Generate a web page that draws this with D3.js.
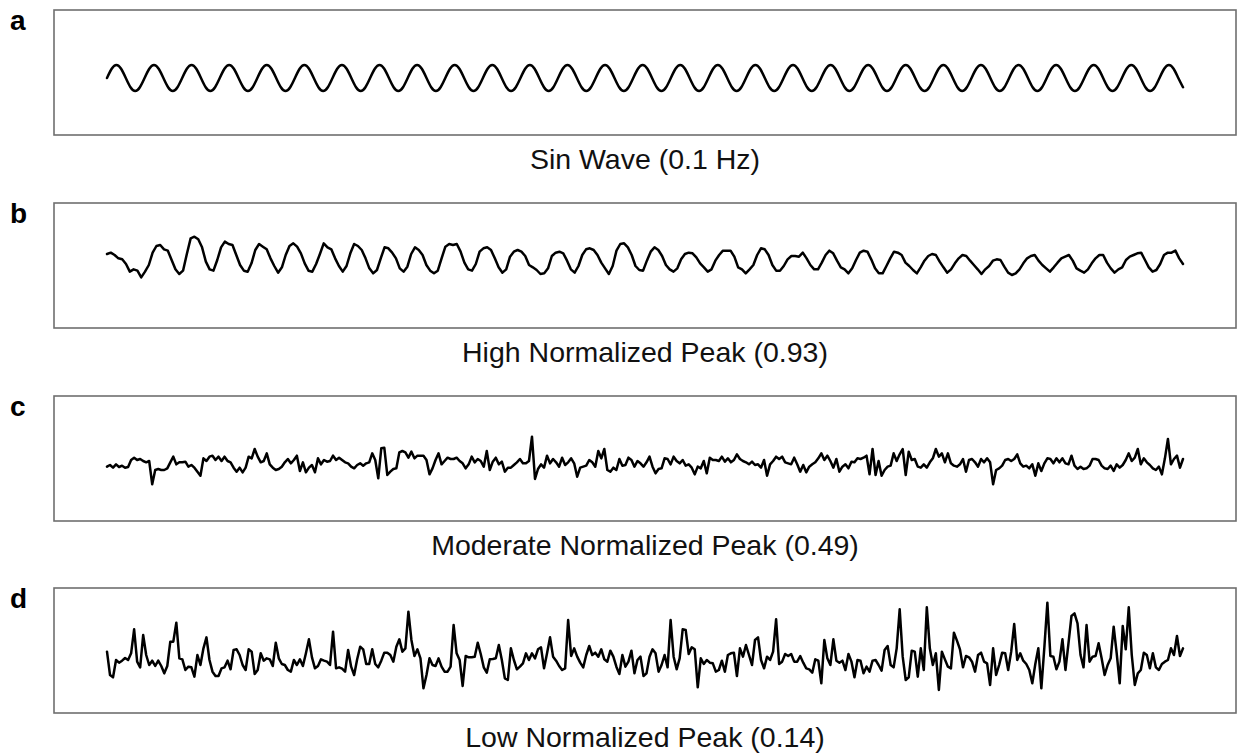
<!DOCTYPE html>
<html>
<head>
<meta charset="utf-8">
<script src="https://cdn.jsdelivr.net/npm/d3@7"></script>
<style>
  html, body { margin: 0; padding: 0; background: #fff; }
  svg { display: block; }
</style>
</head>
<body>
<svg></svg>
<script>
// panel letters and captions
const labels = ['a', 'b', 'c', 'd'];
const titles = [
  'Sin Wave (0.1 Hz)',
  'High Normalized Peak (0.93)',
  'Moderate Normalized Peak (0.49)',
  'Low Normalized Peak (0.14)'
];

// signal values, arbitrary units
const sinWave = [
  0, 0.71, 1, 0.71, 0, -0.71, -1, -0.71,
  0, 0.71, 1, 0.71, 0, -0.71, -1, -0.71,
  0, 0.71, 1, 0.71, 0, -0.71, -1, -0.71,
  0, 0.71, 1, 0.71, 0, -0.71, -1, -0.71,
  0, 0.71, 1, 0.71, 0, -0.71, -1, -0.71,
  0, 0.71, 1, 0.71, 0, -0.71, -1, -0.71,
  0, 0.71, 1, 0.71, 0, -0.71, -1, -0.71,
  0, 0.71, 1, 0.71, 0, -0.71, -1, -0.71,
  0, 0.71, 1, 0.71, 0, -0.71, -1, -0.71,
  0, 0.71, 1, 0.71, 0, -0.71, -1, -0.71,
  0, 0.71, 1, 0.71, 0, -0.71, -1, -0.71,
  0, 0.71, 1, 0.71, 0, -0.71, -1, -0.71,
  0, 0.71, 1, 0.71, 0, -0.71, -1, -0.71,
  0, 0.71, 1, 0.71, 0, -0.71, -1, -0.71,
  0, 0.71, 1, 0.71, 0, -0.71, -1, -0.71,
  0, 0.71, 1, 0.71, 0, -0.71, -1, -0.71,
  0, 0.71, 1, 0.71, 0, -0.71, -1, -0.71,
  0, 0.71, 1, 0.71, 0, -0.71, -1, -0.71,
  0, 0.71, 1, 0.71, 0, -0.71, -1, -0.71,
  0, 0.71, 1, 0.71, 0, -0.71, -1, -0.71,
  0, 0.71, 1, 0.71, 0, -0.71, -1, -0.71,
  0, 0.71, 1, 0.71, 0, -0.71, -1, -0.71,
  0, 0.71, 1, 0.71, 0, -0.71, -1, -0.71,
  0, 0.71, 1, 0.71, 0, -0.71, -1, -0.71,
  0, 0.71, 1, 0.71, 0, -0.71, -1, -0.71,
  0, 0.71, 1, 0.71, 0, -0.71, -1, -0.71,
  0, 0.71, 1, 0.71, 0, -0.71, -1, -0.71,
  0, 0.71, 1, 0.71, 0, -0.71, -1, -0.71,
  0, 0.71, 1, 0.71, 0, -0.71
];

const highPeak = [
  18, 22, 15, 5, 2, -12, -35, -28, -32, -52, -35, -15, 22, 42, 45, 32, 28, 0, -28, -42,
  -32, 18, 65, 70, 62, 38, -5, -28, -32, 0, 38, 55, 48, 45, 15, -15, -32, -35, -10, 30,
  48, 40, 32, 5, -18, -38, -22, 15, 42, 50, 40, 20, -10, -32, -35, -12, 18, 50, 38, 32,
  5, -18, -35, -18, 20, 48, 42, 30, 5, -25, -40, -30, 5, 38, 35, 22, 5, -25, -35, -20,
  18, 38, 30, 15,
  -15, -32, -40, -32, 5, 40, 48, 45, 48, 25, -8, -28, -32, -12, 25, 35, 38, 30, 5, -22,
  -38, -28, 10, 25, 30, 25, 12, -15, -22, -30, -42, -40, -25, 12, 22, 25, 20, -2, -28, -38,
  -18, 15, 32, 35, 30, 15, -8, -25, -42, -18, 28, 48, 50, 38, 15, -18, -30, -32, -2, 25,
  38, 30, 12, -15, -28, -35, -25, 2, 18, 22, 20, 8, -10, -22, -35, -28, -2, 15, 28, 28,
  28, 10, -22, -28, -40, -28, -15, 15, 35, 32, 15, -15, -32, -32, -18, 2, 12, 12, 10, 22,
  5, -15, -28, -28, -8, 15, 28, 20,
  -2, -22, -28, -40, -25, 0, 22, 28, 25, 2, -25, -40, -40, -18, 5, 25, 22, 15, -8, -18,
  -30, -40, -22, -2, 12, 18, 15, -5, -22, -38, -28, -10, 5, 15, 12, -2, -15, -28, -42, -28,
  -18, -2, 2, 0, -20, -38, -45, -40, -28, -10, 5, 12, 15, -2, -15, -25, -35, -22, -8, 5,
  10, 15, -2, -25, -32, -38, -28, -10, 5, 15, 15, -8, -25, -38, -28, -22, 0, 10, 15, 20,
  22, 0, -22, -35, -30, -12, 15, 22, 22, 28, 5, -12
];

const moderatePeak = [
  -5, 0, -8, 2, -6, -2, -8, -6, 15, 22, 15, 18, 12, 8, 12, -58, -15, -12, -15, -15,
  -10, 8, 25, 2, 8, 8, 10, -5, 0, -8, -20, -32, 20, 12, 25, 28, 15, 25, 12, 25,
  12, 8, -8, -20, -8, -22, -8, 25, 20, 48, 25, 8, 12, 35, 2, -8, -15, -12, -5, 8,
  18, 5, 15, 28, -18, 8, -22, -8, 0, -22, 20, 2, 15, 10, 12, 28, 15, 22, 15, 8,
  5, -5, -10, 0, 5, -2, 5, 8, 35, 15, -40, 50, 52, -30, -20, -12, -10, 38, 42, 38,
  22, 40, 20, 28, 28, 28, 15, -28, -10, 15, 35, 2, 12, 22, 18, 18, 22, 12, 5, -10,
  2,
  25, 8, 18, 12, -5, 42, -15, 10, 22, 2, 10, -20, -8, -8, 0, 8, 18, 5, 5, 12,
  85, -42, -12, 2, -8, 28, 5, 18, 8, -5, 22, 0, 8, 20, 5, -35, -8, -5, -2, 15,
  8, -5, 42, 20, 48, -15, -20, -8, -15, 18, -2, 0, 22, 15, -5, 12, 5, -5, 8, 25,
  -5, -25, -12, -10, 20, 18, 2, 25, 12, 5, 15, -2, 2, -8, -28, -5, -10, 12, -25, 22,
  15, 15, 12, 25, 10, 20, 8, 15, 32, 18, 12, 8, 2, 10, 0, 2, -8, 15, -32, 2,
  12, 25, 18, 25, 8, 5, 2, 22, 2, -20, 0, -22, -5, 2, 8, 20, 35, 15,
  28, 12, -8, 18, -20, -5, 2, -10, 10, 8, 20, 18, 22, 28, -28, 48, -30, 12, -32, -15,
  -5, -2, 35, 12, 32, 48, -30, 40, 15, 18, -5, -8, 2, -8, 8, 20, 48, 25, 35, 8,
  35, 5, -2, -5, 2, 18, -20, 15, 18, 8, -5, 18, 8, 20, 8, -58, -15, -10, -2, 15,
  18, 12, 18, 32, 5, -5, -2, -10, 2, -32, 5, -18, 5, 20, 18, 5, 20, 8, 20, 5,
  2, 28, -2, -12, -5, -12, -10, -2, 18, 18, 15, -2, -10, -12, -2, -18, 2, -8, 0, 15,
  35, 12, 22, 48, 2, 20, 8, 0, -10, -15, -5, -28, 20, 78, 2, 18, 28, -8, 18
];

const lowPeak = [
  30, -40, -47, 5, -3, 3, 11, 5, 25, 97, 0, -17, 80, 20, -10, 3, -13, 3, -13, -35,
  -13, 60, 60, 117, 10, 7, -25, -15, -17, -45, 20, -10, 40, 73, 5, -30, -43, -43, -20, -17,
  3, -23, 35, 37, 20, -10, -25, 37, 30, -37, -25, 25, 3, 10, 7, -13, 57, 10, -7, -10,
  -25, -30, 5, -10, 7, -13, 25, 67, 13, -20, -13, 7, 3, 0, -10, 90, -20, -17, -21, -30,
  35, -15, -40, 7, 45, 37, -7, -7, 37, -7, -17, 3, 27, 27, 20, 0, 45, 67, 30, 40,
  150, 65, 17, 37, 10, -80, -40, 10, -10, -13, 10, -15, -30, -30, -15, 110, 25, 5,
  -73, 17, 13, 13, 15, 57, 23, -17, -33, 7, 8, 10, 50, 5, -50, -55, 40, 5, -23, -15,
  -5, 25, 5, 25, 10, 37, 43, -20, 25, 73, 15, 3, -13, -25, -20, 125, 17, 40, 15, -3,
  -17, 20, 47, 20, 27, 15, 37, 7, 0, 33, 15, -15, -37, 20, -15, 0, 33, -35, 5, 15,
  -43, -35, 15, 37, 25, -30, -10, 20, -17, 125, 15, -23, 10, 97, 95, 23, 43, 37, -77, 10,
  -7, 5, -3, -5, -30, -25, 3, -30, 20, 25, 27, -43, 40, 15, 50, 20, -10, 65, 73, 5,
  -20, 15, 5, 30, 127, -7, 0, 23, 17, 23, 0, 0, 17, -3, -20, -23, -33, 7, 3, -65,
  65, 10, -10, 67, 3, -3, 3, -25, 23, 0, -47, 5, 3, -35, -15, -30, 3, 5, -10, -27,
  35, 47, -10, -17, 40, 157, 15, -55, -47, 33, 30, -45, 40, -25, 163, 40, -10, 25, -85, 30,
  7, -15, -20, 87, 63, 37, -17, 17, 13, 0, -30, 20, 27, 0, -5, -70, 40, -40, -10, 27,
  25, -25, 30, 113, 5, 25, 3, -7, -25, -65, -7, 40, -80, 43, 177, 17, 15, -23, 0, 67,
  -25, 55, 137, 145, 115, 20, -17, 110, 0, 15, 17, 55, 10, -40, -10, 10, 105, 25, -65, 107,
  37, 163, 20, -70, -35, -25, 27, 20, -20, 25, -17, -25, -7, 0, 5, 40, 20, 77, 17, 40
];

const series = [sinWave, highPeak, moderatePeak, lowPeak];
// value range shown in each box
const domains = [[-4.38, 5.23], [-204, 171], [-168, 207], [-154, 221]];

const [width, height] = [1239, 754];
const boxLeft = 54, boxRight = 1236, boxH = 125;
const boxTops = [10, 203, 396, 588];
const lineLeft = 107, lineRight = 1183;

const svg = d3.select('svg')
  .attr('width', width)
  .attr('height', height)
  .attr('viewBox', [0, 0, width, height])
  .style('font-family', '"Liberation Sans", Arial, sans-serif');

series.forEach((values, i) => {
  const top = boxTops[i];
  const g = svg.append('g');

  const x = d3.scaleLinear()
    .domain([0, values.length - 1])
    .range([lineLeft, lineRight]);

  const y = d3.scaleLinear()
    .domain(domains[i])
    .range([top + boxH, top]);

  g.append('rect')
    .attr('x', boxLeft)
    .attr('y', top)
    .attr('width', boxRight - boxLeft)
    .attr('height', boxH)
    .attr('fill', 'none')
    .attr('stroke', '#6f6f6f')
    .attr('stroke-width', 1.6);

  const line = d3.line()
    .curve(i === 0 ? d3.curveNatural : d3.curveLinear)
    .x((d, j) => x(j))
    .y(d => y(d));

  g.append('path')
    .datum(values)
    .attr('fill', 'none')
    .attr('stroke', '#000')
    .attr('stroke-width', 2.5)
    .attr('stroke-linejoin', 'round')
    .attr('stroke-linecap', 'round')
    .attr('d', line);

  g.append('text')
    .attr('x', 10)
    .attr('y', top + 20)
    .attr('font-size', 28)
    .attr('font-weight', 'bold')
    .text(labels[i]);

  g.append('text')
    .attr('x', (boxLeft + boxRight) / 2)
    .attr('y', top + 159)
    .attr('text-anchor', 'middle')
    .attr('font-size', 28.5)
    .attr('fill', '#111')
    .text(titles[i]);
});
</script>
</body>
</html>
